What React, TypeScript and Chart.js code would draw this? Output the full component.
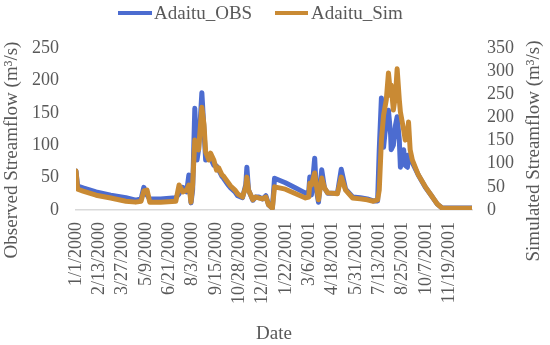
import React, { useEffect, useRef } from "react";
import { Chart, registerables } from "chart.js";

Chart.register(...registerables);

// Day offsets from 1/1/2000
const dayIndex = [0, 3, 13, 37, 64, 92, 110, 120, 125, 131, 136, 156, 184, 190, 197, 204, 208, 212, 215, 219, 223, 226, 232, 236, 239, 245, 248, 254, 259, 263, 269, 272, 280, 285, 293, 298, 307, 313, 315, 318, 326, 331, 337, 344, 350, 355, 362, 366, 386, 405, 423, 429, 431, 434, 440, 443, 447, 453, 458, 464, 482, 489, 497, 510, 524, 537, 548, 556, 559, 563, 567, 572, 576, 580, 581, 585, 589, 592, 596, 598, 604, 607, 611, 613, 616, 620, 631, 644, 657, 666, 675, 730];

const obsFlow = [60, 37, 34, 28, 23, 19, 15, 17, 35, 23, 17, 17, 19, 25, 35, 28, 54, 11, 31, 157, 77, 93, 181, 123, 77, 80, 80, 69, 68, 62, 52, 49, 39, 34, 28, 22, 19, 39, 66, 31, 15, 20, 20, 17, 22, 8, 3, 49, 42, 34, 26, 28, 51, 23, 80, 31, 12, 62, 34, 26, 26, 63, 32, 20, 19, 17, 14, 14, 93, 173, 97, 139, 154, 116, 93, 100, 131, 144, 108, 66, 93, 69, 66, 85, 77, 73, 54, 35, 20, 9, 3, 3];

const simFlow = [84, 45, 41, 32, 26, 19, 17, 19, 41, 43, 17, 17, 19, 54, 39, 43, 54, 17, 54, 151, 140, 130, 222, 184, 125, 108, 123, 108, 86, 91, 76, 73, 60, 52, 43, 35, 28, 50, 71, 43, 22, 28, 26, 24, 28, 11, 4, 50, 45, 35, 26, 28, 58, 54, 80, 54, 22, 69, 48, 37, 35, 71, 43, 26, 24, 22, 19, 22, 43, 151, 205, 238, 296, 248, 270, 216, 248, 305, 238, 212, 173, 151, 162, 190, 130, 108, 76, 50, 28, 13, 4, 4];

const tickLabels = ["1/1/2000", "2/13/2000", "3/27/2000", "5/9/2000", "6/21/2000", "8/3/2000", "9/15/2000", "10/28/2000", "12/10/2000", "1/22/2001", "3/6/2001", "4/18/2001", "5/31/2001", "7/13/2001", "8/25/2001", "10/7/2001", "11/19/2001"];

const seriesNames = ["Adaitu_OBS", "Adaitu_Sim"];
const leftTitle = "Observed Streamflow (m³/s)";
const rightTitle = "Simulated Streamflow (m³/s)";
const xTitle = "Date";

const OBS_COLOR = "#4C6CD0";
const SIM_COLOR = "#C98A34";
const TEXT = "#595959";
const FONT = '"Liberation Serif", "Times New Roman", serif';

function toDay(label: string): number {
  const [m, d, y] = label.split("/").map(Number);
  return Math.round((Date.UTC(y, m - 1, d) - Date.UTC(2000, 0, 1)) / 86400000);
}
const tickDays = tickLabels.map(toDay);

const decorPlugin = {
  id: "decor",
  afterDraw(chart: any) {
    const ctx = chart.ctx;
    ctx.save();
    ctx.font = `19px ${FONT}`;
    ctx.fillStyle = TEXT;
    ctx.textBaseline = "middle";
    const items = [
      { x0: 118, x1: 152, tx: 154, color: OBS_COLOR, text: seriesNames[0] },
      { x0: 275, x1: 308, tx: 311, color: SIM_COLOR, text: seriesNames[1] },
    ];
    items.forEach((it) => {
      ctx.strokeStyle = it.color;
      ctx.lineWidth = 4;
      ctx.beginPath();
      ctx.moveTo(it.x0, 13);
      ctx.lineTo(it.x1, 13);
      ctx.stroke();
      ctx.textAlign = "left";
      ctx.fillText(it.text, it.tx, 14);
    });
    ctx.textAlign = "center";
    ctx.save();
    ctx.translate(12, 150);
    ctx.rotate(-Math.PI / 2);
    ctx.fillText(leftTitle, 0, 0);
    ctx.restore();
    ctx.save();
    ctx.translate(534, 151);
    ctx.rotate(-Math.PI / 2);
    ctx.fillText(rightTitle, 0, 0);
    ctx.restore();
    ctx.fillText(xTitle, 274, 334);
    ctx.restore();
  },
};

export default function App() {
  const ref = useRef<HTMLCanvasElement | null>(null);
  useEffect(() => {
    if (!ref.current) return;
    const obsData = dayIndex.map((d, i) => ({ x: d, y: obsFlow[i] }));
    const simData = dayIndex.map((d, i) => ({ x: d, y: simFlow[i] }));
    const chart = new Chart(ref.current, {
      type: "line",
      data: {
        datasets: [
          {
            label: seriesNames[0],
            data: obsData,
            yAxisID: "y",
            borderColor: OBS_COLOR,
            backgroundColor: OBS_COLOR,
            borderWidth: 5,
            pointRadius: 0,
            tension: 0,
            borderJoinStyle: "round",
            borderCapStyle: "round",
            order: 1,
          },
          {
            label: seriesNames[1],
            data: simData,
            yAxisID: "y1",
            borderColor: SIM_COLOR,
            backgroundColor: SIM_COLOR,
            borderWidth: 5,
            pointRadius: 0,
            tension: 0,
            borderJoinStyle: "round",
            borderCapStyle: "round",
            order: 0,
          },
        ],
      },
      options: {
        animation: false,
        responsive: false,
        maintainAspectRatio: false,
        layout: { padding: { top: 48, left: 0, right: 0, bottom: 0 } },
        plugins: { legend: { display: false }, tooltip: { enabled: false } },
        scales: {
          x: {
            type: "linear",
            min: 0,
            max: 730,
            afterBuildTicks: (axis: any) => {
              axis.ticks = tickDays.map((v) => ({ value: v }));
            },
            afterFit: (scale: any) => {
              scale.height = 135;
            },
            grid: { display: false, drawTicks: false },
            border: { display: true, color: "#D9D9D9", width: 1.5 },
            ticks: {
              autoSkip: false,
              minRotation: 90,
              maxRotation: 90,
              padding: 12,
              color: TEXT,
              font: { family: FONT, size: 18 },
              callback: (v: any) => {
                const i = tickDays.indexOf(Number(v));
                return i >= 0 ? tickLabels[i] : "";
              },
            },
          },
          y: {
            position: "left",
            min: 0,
            max: 250,
            afterFit: (scale: any) => {
              scale.width = 76;
            },
            grid: { display: false, drawTicks: false },
            border: { display: false },
            ticks: {
              stepSize: 50,
              autoSkip: false,
              padding: 17,
              color: TEXT,
              font: { family: FONT, size: 18 },
            },
          },
          y1: {
            position: "right",
            min: 0,
            max: 350,
            afterFit: (scale: any) => {
              scale.width = 78;
            },
            grid: { display: false, drawTicks: false },
            border: { display: false },
            ticks: {
              stepSize: 50,
              autoSkip: false,
              padding: 15,
              color: TEXT,
              font: { family: FONT, size: 18 },
            },
          },
        },
      },
      plugins: [decorPlugin],
    } as any);
    return () => chart.destroy();
  }, []);
  return (
    <div style={{ position: "absolute", left: 0, top: 0, width: 550, height: 345, background: "#fff" }}>
      <canvas ref={ref} width={550} height={345} style={{ width: 550, height: 345 }} />
    </div>
  );
}
